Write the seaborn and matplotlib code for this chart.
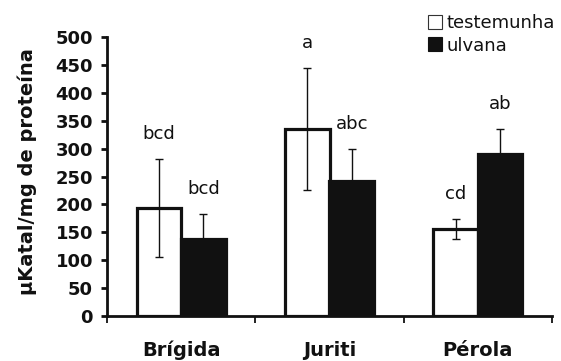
import matplotlib
matplotlib.use("Agg")
import matplotlib.pyplot as plt
import seaborn as sns
import pandas as pd
from matplotlib.patches import Patch
from matplotlib.ticker import FixedLocator

categories = ["Brígida", "Juriti", "Pérola"]
series = ["testemunha", "ulvana"]
testemunha = [194, 335, 155]
ulvana = [137, 242, 290]
err_testemunha = [88, 110, 18]
err_ulvana = [46, 57, 46]
letters_testemunha = ["bcd", "a", "cd"]
letters_ulvana = ["bcd", "abc", "ab"]
yticks = [0, 50, 100, 150, 200, 250, 300, 350, 400, 450, 500]

df = pd.DataFrame({
    "cultivar": categories * 2,
    "trat": [series[0]] * 3 + [series[1]] * 3,
    "valor": testemunha + ulvana,
    "err": err_testemunha + err_ulvana,
    "letra": letters_testemunha + letters_ulvana,
})

sns.set_style("white")
plt.rcParams["font.family"] = ["DejaVu Sans"]
plt.rcParams["text.color"] = "#111111"
plt.rcParams["xtick.color"] = "#111111"
plt.rcParams["ytick.color"] = "#111111"
plt.rcParams["axes.labelcolor"] = "#111111"

fig = plt.figure(figsize=(5.61, 3.61), dpi=100)
ax = fig.add_axes([107 / 561, 1 - 315.7 / 361, 445 / 561, 278.4 / 361])

sns.barplot(data=df, x="cultivar", y="valor", hue="trat", order=categories,
            hue_order=series, palette={"testemunha": "white", "ulvana": "#111111"},
            edgecolor="#111111", linewidth=2.3, width=0.6, gap=0,
            errorbar=None, legend=False, ax=ax, zorder=2)

bars = [p for p in ax.patches]
xs = [p.get_x() + p.get_width() / 2 for p in bars]
hs = [p.get_height() for p in bars]
ax.errorbar(xs, hs, yerr=df["err"].values, fmt="none", ecolor="#111111",
            elinewidth=1.0, capsize=2.6, capthick=1.0, zorder=3)
for x, h, e, t in zip(xs, hs, df["err"].values, df["letra"].values):
    ax.annotate(t, (x, h + e), xytext=(0, 18), textcoords="offset points",
                ha="center", va="center", fontsize=13, color="#111111")

ax.set_xlim(-0.5, 2.5)
ax.set_ylim(0, 500)
ax.set_yticks(yticks)
ax.set_yticklabels([str(v) for v in yticks], fontsize=13, fontweight="bold")
ax.set_xticks(range(len(categories)))
ax.set_xticklabels(categories, fontsize=14, fontweight="bold")
ax.xaxis.set_minor_locator(FixedLocator([-0.5, 0.5, 1.5, 2.5]))
ax.tick_params(axis="x", which="major", length=0, pad=18)
ax.tick_params(axis="x", which="minor", length=5, width=1.3, direction="out",
               bottom=True, color="#111111")
ax.tick_params(axis="y", which="major", length=4, width=2, direction="out",
               left=True, pad=6, color="#111111")
ax.set_xlabel("")
ax.set_ylabel("µKatal/mg de proteína", fontsize=14, fontweight="bold", va="center")
ax.yaxis.set_label_coords(-0.18, 0.516)

for s in ["top", "right"]:
    ax.spines[s].set_visible(False)
for s in ["left", "bottom"]:
    ax.spines[s].set_linewidth(2)
    ax.spines[s].set_color("#111111")

handles = [Patch(facecolor="white", edgecolor="#333333", linewidth=0.8),
           Patch(facecolor="#111111", edgecolor="#111111", linewidth=0.8)]
fig.legend(handles, series, loc="upper left", bbox_to_anchor=(428 / 561, 1 - 14 / 361),
           frameon=False, fontsize=13, handlelength=0.8, handleheight=0.8,
           handletextpad=0.2, labelspacing=0.25, borderpad=0, borderaxespad=0)

fig.savefig("out.png", dpi=100)
